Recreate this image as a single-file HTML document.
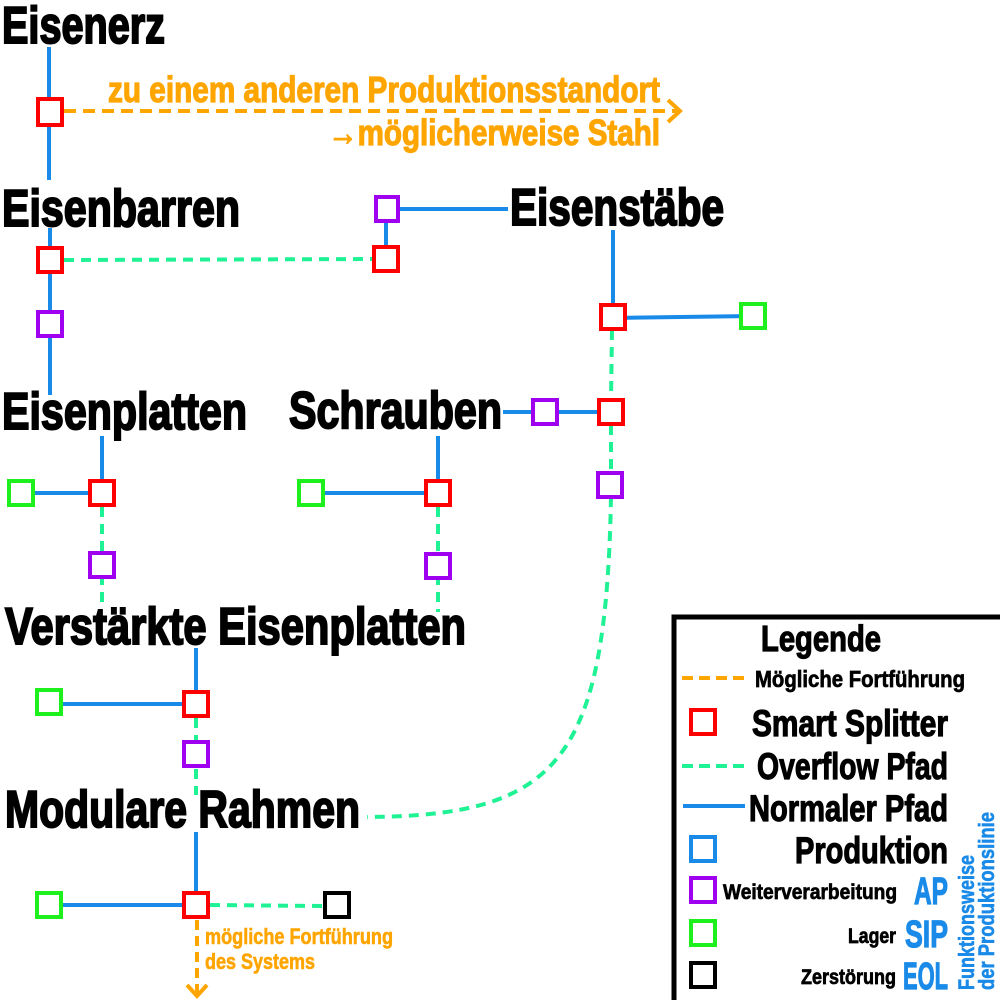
<!DOCTYPE html>
<html><head><meta charset="utf-8"><style>
html,body{margin:0;padding:0;background:#fff;}
svg{display:block;}
text{font-family:"Liberation Sans Narrow","Liberation Sans",sans-serif;font-weight:bold;}
</style></head><body>
<svg width="1000" height="1000" viewBox="0 0 1000 1000" xmlns="http://www.w3.org/2000/svg">
<g fill="none" stroke-width="4">
<g stroke="#1a8ae8">
<line x1="49" y1="47" x2="49" y2="180"/>
<line x1="50" y1="228" x2="50" y2="395"/>
<polyline points="386,247 386,209 508,209"/>
<line x1="613" y1="230" x2="613" y2="305"/>
<line x1="613" y1="318" x2="753" y2="316"/>
<line x1="503" y1="412" x2="598" y2="412"/>
<line x1="102" y1="436" x2="102" y2="480"/>
<line x1="21" y1="493" x2="102" y2="493"/>
<line x1="438" y1="436" x2="438" y2="480"/>
<line x1="311" y1="493" x2="438" y2="493"/>
<line x1="196" y1="648" x2="196" y2="690"/>
<line x1="49" y1="704" x2="196" y2="704"/>
<line x1="196" y1="832" x2="196" y2="892"/>
<line x1="49" y1="905" x2="196" y2="905"/>
</g>
<g stroke="#1ef294" stroke-dasharray="10,7">
<line x1="64" y1="260" x2="373" y2="259"/>
<line x1="612" y1="330" x2="611" y2="400"/>
<line x1="611" y1="425" x2="611" y2="500"/>
<path d="M611,497 C606,760 560,816 367,817"/>
<line x1="102" y1="507" x2="102" y2="605"/>
<line x1="438" y1="507" x2="438" y2="612"/>
<line x1="196" y1="718" x2="196" y2="795"/>
<line x1="210" y1="905" x2="323" y2="906"/>
</g>
<g stroke="#ffa500">
<line x1="64" y1="111" x2="678" y2="111" stroke-dasharray="12,7"/>
<polyline points="668,100 680,111 668,122"/>
<line x1="197" y1="920" x2="197" y2="993" stroke-dasharray="10,6"/>
<polyline points="187,985 197,996 207,985"/>
</g>
</g>
<g fill="#fff" stroke-width="4">
<rect x="38" y="99" width="24" height="26" stroke="#f00"/>
<rect x="38" y="248" width="24" height="24" stroke="#f00"/>
<rect x="374" y="247" width="24" height="24" stroke="#f00"/>
<rect x="376" y="197" width="22" height="24" stroke="#a000f0"/>
<rect x="38" y="312" width="24" height="24" stroke="#a000f0"/>
<rect x="601" y="305" width="24" height="24" stroke="#f00"/>
<rect x="741" y="304" width="24" height="24" stroke="#1ef01e"/>
<rect x="533" y="400" width="24" height="24" stroke="#a000f0"/>
<rect x="599" y="400" width="24" height="24" stroke="#f00"/>
<rect x="598" y="473" width="24" height="24" stroke="#a000f0"/>
<rect x="90" y="481" width="24" height="24" stroke="#f00"/>
<rect x="9" y="481" width="24" height="24" stroke="#1ef01e"/>
<rect x="90" y="553" width="24" height="24" stroke="#a000f0"/>
<rect x="426" y="481" width="24" height="24" stroke="#f00"/>
<rect x="299" y="481" width="24" height="24" stroke="#1ef01e"/>
<rect x="426" y="554" width="24" height="24" stroke="#a000f0"/>
<rect x="184" y="692" width="24" height="24" stroke="#f00"/>
<rect x="37" y="690" width="24" height="24" stroke="#1ef01e"/>
<rect x="184" y="742" width="24" height="24" stroke="#a000f0"/>
<rect x="184" y="893" width="24" height="24" stroke="#f00"/>
<rect x="37" y="893" width="24" height="24" stroke="#1ef01e"/>
<rect x="325" y="893" width="24" height="24" stroke="#000"/>
</g>
<g fill="#000" stroke="#000" stroke-width="2" font-size="52">
<text x="2" y="43" textLength="163" lengthAdjust="spacingAndGlyphs">Eisenerz</text>
<text x="2" y="226" textLength="238" lengthAdjust="spacingAndGlyphs">Eisenbarren</text>
<text x="510" y="225" textLength="214" lengthAdjust="spacingAndGlyphs">Eisenstäbe</text>
<text x="2" y="429" textLength="245" lengthAdjust="spacingAndGlyphs">Eisenplatten</text>
<text x="289" y="428" textLength="213" lengthAdjust="spacingAndGlyphs">Schrauben</text>
<text x="5" y="644" textLength="461" lengthAdjust="spacingAndGlyphs">Verstärkte Eisenplatten</text>
<text x="5" y="827" textLength="355" lengthAdjust="spacingAndGlyphs">Modulare Rahmen</text>
</g>
<g fill="#ffa500" stroke="#ffa500" stroke-width="1.2">
<text x="108" y="102" font-size="36" textLength="552" lengthAdjust="spacingAndGlyphs">zu einem anderen Produktionsstandort</text>
<text x="328" y="145" font-size="36" textLength="332" lengthAdjust="spacingAndGlyphs">→möglicherweise Stahl</text>
<text x="205" y="944" font-size="22" stroke-width="0.6" textLength="188" lengthAdjust="spacingAndGlyphs">mögliche Fortführung</text>
<text x="205" y="969" font-size="22" stroke-width="0.6" textLength="110" lengthAdjust="spacingAndGlyphs">des Systems</text>
</g>
<polyline points="674,1000 674,617 1000,617" fill="none" stroke="#000" stroke-width="5"/>
<g stroke-width="4" fill="none">
<line x1="682" y1="678" x2="746" y2="678" stroke="#ffa500" stroke-dasharray="11,6"/>
<line x1="682" y1="766" x2="750" y2="766" stroke="#1ef294" stroke-dasharray="11,6"/>
<line x1="683" y1="806" x2="745" y2="806" stroke="#1a8ae8"/>
<rect x="691" y="710" width="24" height="24" stroke="#f00" fill="#fff"/>
<rect x="691" y="837" width="24" height="24" stroke="#1a8ae8" fill="#fff"/>
<rect x="691" y="878" width="24" height="24" stroke="#a000f0" fill="#fff"/>
<rect x="691" y="921" width="24" height="24" stroke="#1ef01e" fill="#fff"/>
<rect x="691" y="963" width="24" height="24" stroke="#000" fill="#fff"/>
</g>
<g fill="#000" stroke="#000" stroke-width="1.2">
<text x="761" y="651" font-size="36" textLength="120" lengthAdjust="spacingAndGlyphs">Legende</text>
<text x="755" y="687" font-size="23" stroke-width="0.7" textLength="210" lengthAdjust="spacingAndGlyphs">Mögliche Fortführung</text>
<text x="752" y="736" font-size="37" textLength="196" lengthAdjust="spacingAndGlyphs">Smart Splitter</text>
<text x="757" y="779" font-size="37" textLength="191" lengthAdjust="spacingAndGlyphs">Overflow Pfad</text>
<text x="749" y="821" font-size="37" textLength="199" lengthAdjust="spacingAndGlyphs">Normaler Pfad</text>
<text x="795" y="863" font-size="37" textLength="153" lengthAdjust="spacingAndGlyphs">Produktion</text>
<text x="723" y="899" font-size="21" stroke-width="0.7" textLength="174" lengthAdjust="spacingAndGlyphs">Weiterverarbeitung</text>
<text x="848" y="943" font-size="21" stroke-width="0.7" textLength="48" lengthAdjust="spacingAndGlyphs">Lager</text>
<text x="801" y="984" font-size="21" stroke-width="0.7" textLength="95" lengthAdjust="spacingAndGlyphs">Zerstörung</text>
</g>
<g fill="#1a8ae8" stroke="#1a8ae8" stroke-width="1.2">
<text x="914" y="904" font-size="38" textLength="34" lengthAdjust="spacingAndGlyphs">AP</text>
<text x="905" y="947" font-size="38" textLength="43" lengthAdjust="spacingAndGlyphs">SIP</text>
<text x="903" y="989" font-size="38" textLength="45" lengthAdjust="spacingAndGlyphs">EOL</text>
<text transform="translate(974,990) rotate(-90)" font-size="22" stroke-width="0.6" textLength="135" lengthAdjust="spacingAndGlyphs">Funktionsweise</text>
<text transform="translate(994,990) rotate(-90)" font-size="22" stroke-width="0.6" textLength="178" lengthAdjust="spacingAndGlyphs">der Produktionslinie</text>
</g>
</svg>
</body></html>
